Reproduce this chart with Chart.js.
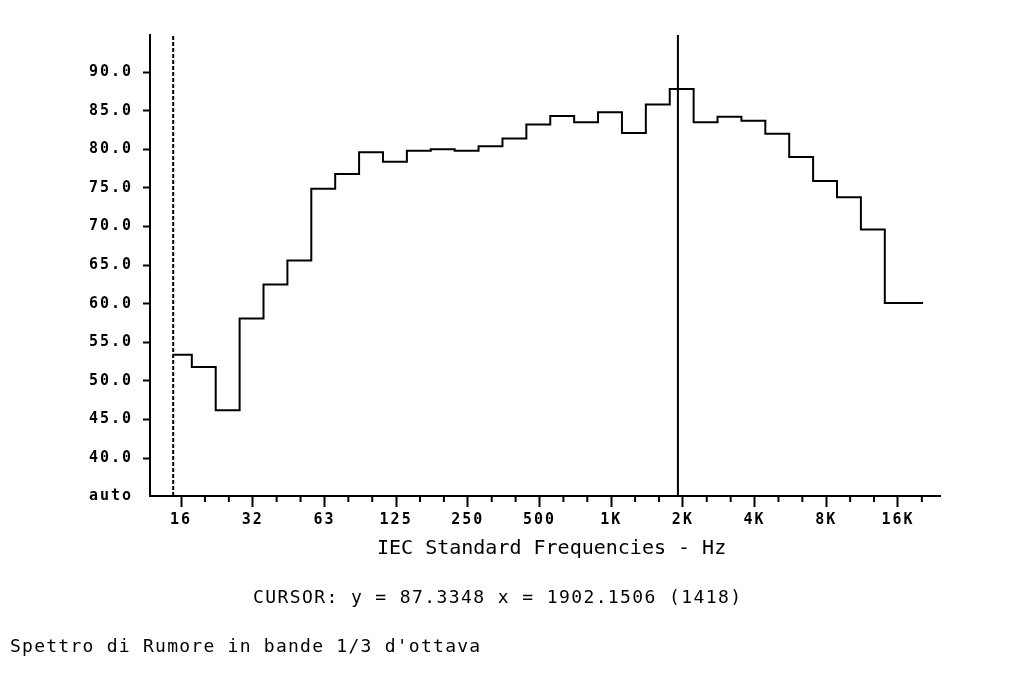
<!DOCTYPE html>
<html>
<head>
<meta charset="utf-8">
<script src="https://cdn.jsdelivr.net/npm/chart.js@4/dist/chart.umd.min.js"></script>
<style>
  html, body { margin: 0; padding: 0; background: #fff; }
  #wrap { width: 1024px; height: 700px; position: relative; }
</style>
</head>
<body>
<div id="wrap"><canvas id="spectrum"></canvas></div>
<script>
// 1/3 octave bands and measured levels (dB)
const bandLabels = ['16','20','25','31.5','40','50','63','80','100','125','160','200','250','315','400','500',
                    '630','800','1K','1.25K','1.6K','2K','2.5K','3.15K','4K','5K','6.3K','8K','10K','12.5K','16K','20K'];
const levels = [53.4, 51.8, 46.2, 58.1, 62.5, 65.6, 74.9, 76.8, 79.6, 78.4, 79.8, 80.0, 79.8, 80.4, 81.4, 83.2,
                84.3, 83.5, 84.8, 82.1, 85.8, 87.8, 83.5, 84.2, 83.7, 82.0, 79.0, 75.9, 73.8, 69.6, 60.1, 60.1];
const xTickLabels = ['16','32','63','125','250','500','1K','2K','4K','8K','16K'];
const yTicks = [40, 45, 50, 55, 60, 65, 70, 75, 80, 85, 90];

// cursor and limits
const cursorX = 1902.1506;
const cursorY = 87.3348;
const cursorBin = 1418;
const startBand = -0.33;   // dashed lower limit (band index)
const endBand = 31.05;     // last drawn band edge
const yMin = 35.1, yMax = 94.8;

// band index from frequency (base-10 third octave, 16 Hz = 0)
function bandIndex(f) { return 10 * Math.log10(f / 15.849); }

// step points: each band holds its level from its left edge
const stepPoints = [{ x: startBand, y: levels[0] }];
for (let i = 1; i < levels.length; i++) stepPoints.push({ x: i - 0.55, y: levels[i] });
stepPoints.push({ x: endBand, y: levels[levels.length - 1] });

const cursorIdx = bandIndex(cursorX);

const monoBold = { family: '"DejaVu Sans Mono", monospace', size: 15, weight: 'bold' };

const spacing = {
    id: 'spacing',
    beforeLayout(chart) { chart.ctx.letterSpacing = '2px'; },
    beforeDraw(chart) { chart.ctx.letterSpacing = '2px'; }
};

const extras = {
    id: 'extras',
    afterDraw(chart) {
        const ctx = chart.ctx;
        const x = chart.scales.x;
        const bottom = chart.chartArea.bottom;
        ctx.save();
        // short minor ticks
        ctx.strokeStyle = '#000';
        ctx.lineWidth = 2;
        for (let i = 0; i < bandLabels.length; i++) {
            if (i % 3 === 0) continue;
            const px = x.getPixelForValue(i);
            ctx.beginPath();
            ctx.moveTo(px, bottom);
            ctx.lineTo(px, bottom + 6);
            ctx.stroke();
        }
        // texts below the chart
        ctx.letterSpacing = '0px';
        ctx.fillStyle = '#000';
        ctx.textBaseline = 'alphabetic';
        ctx.textAlign = 'left';
        ctx.font = '20px "DejaVu Sans Mono", monospace';
        ctx.fillText('IEC Standard Frequencies - Hz', 377, 554);
        ctx.letterSpacing = '1.4px';
        ctx.font = '18px "DejaVu Sans Mono", monospace';
        ctx.fillText('CURSOR: y = ' + cursorY.toFixed(4) + ' x = ' + cursorX.toFixed(4) + ' (' + cursorBin + ')', 253, 603);
        ctx.letterSpacing = '1.25px';
        ctx.fillText("Spettro di Rumore in bande 1/3 d'ottava", 10, 652);
        ctx.restore();
    }
};

new Chart(document.getElementById('spectrum'), {
    type: 'line',
    data: {
        datasets: [{
            data: stepPoints,
            stepped: true,
            borderColor: '#000',
            borderWidth: 2,
            pointRadius: 0,
            fill: false
        }, {
            // lower limit marker
            data: [{ x: startBand, y: yMin }, { x: startBand, y: yMax }],
            borderColor: '#000',
            borderWidth: 2,
            borderDash: [4, 2],
            pointRadius: 0
        }, {
            // cursor
            data: [{ x: cursorIdx, y: yMin }, { x: cursorIdx, y: yMax }],
            borderColor: '#000',
            borderWidth: 2,
            pointRadius: 0
        }]
    },
    options: {
        responsive: true,
        maintainAspectRatio: false,
        animation: false,
        layout: { padding: { top: 35, right: 84, left: 0, bottom: 0 } },
        plugins: {
            legend: { display: false },
            tooltip: { enabled: false }
        },
        scales: {
            x: {
                type: 'linear',
                min: -1.3,
                max: 31.76,
                afterBuildTicks: function(scale) {
                    scale.ticks = bandLabels.map((b, i) => ({ value: i }));
                },
                afterFit: function(scale) { scale.height = 204; },
                grid: {
                    drawOnChartArea: false,
                    tickLength: 11,
                    tickWidth: 2,
                    tickColor: c => (c.tick && c.tick.value % 3 === 0) ? '#000' : 'rgba(0,0,0,0)'
                },
                border: { color: '#000', width: 2 },
                ticks: {
                    autoSkip: false,
                    maxRotation: 0,
                    padding: 4,
                    color: '#000',
                    font: monoBold,
                    callback: v => (v % 3 === 0) ? xTickLabels[v / 3] : ''
                }
            },
            y: {
                min: yMin,
                max: yMax,
                afterBuildTicks: function(scale) {
                    scale.ticks = [{ value: yMin }].concat(yTicks.map(v => ({ value: v })));
                },
                afterFit: function(scale) { scale.width = 150; },
                grid: {
                    drawOnChartArea: false,
                    tickLength: 7,
                    tickWidth: 2,
                    tickColor: c => (c.tick && c.tick.value < 39) ? 'rgba(0,0,0,0)' : '#000'
                },
                border: { color: '#000', width: 2 },
                ticks: {
                    padding: 10,
                    color: '#000',
                    font: monoBold,
                    callback: v => v < 39 ? 'auto' : v.toFixed(1)
                }
            }
        }
    },
    plugins: [spacing, extras]
});
</script>
</body>
</html>
